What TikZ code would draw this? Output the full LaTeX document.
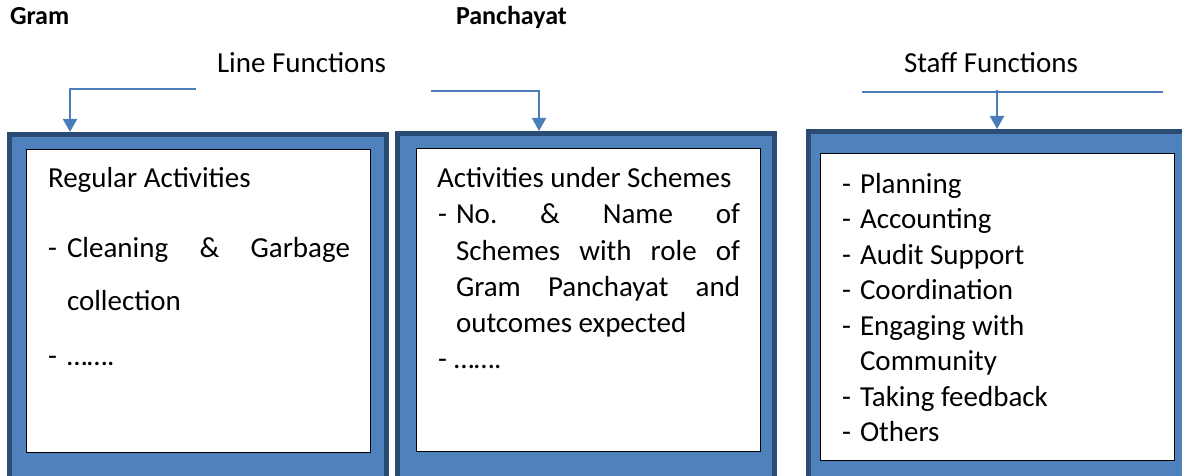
\documentclass[tikz,border=0pt]{standalone}
\usepackage{fontspec}
\setmainfont{Carlito}
\usetikzlibrary{arrows.meta}
\definecolor{panelblue}{HTML}{4F81BD}
\definecolor{paneledge}{HTML}{2A4B73}
\definecolor{linkblue}{HTML}{4A7EBB}
\tikzset{
  panel/.style={rectangle, draw=paneledge, fill=panelblue, line width=5pt,
    inner sep=0pt, outer sep=2.5pt, anchor=north west},
  sheet/.style={rectangle, draw=black, fill=white, line width=1.5pt,
    inner sep=0pt, outer sep=0pt, anchor=north west},
  txt/.style={anchor=base west, inner sep=0pt, outer sep=0pt,
    font=\fontsize{29}{35}\selectfont},
  headtxt/.style={anchor=base west, inner sep=0pt, outer sep=0pt,
    font=\fontsize{26}{31}\selectfont\bfseries},
  link/.style={draw=linkblue, line width=2pt},
  tip/.style={-{Triangle[width=14pt,length=13pt]}}
}
\begin{document}
\begin{tikzpicture}[x=1pt,y=-1pt]
\useasboundingbox (0,0) rectangle (1182,476);
\clip (0,0) rectangle (1182,476);

% headings
\node[headtxt] (hgram) at (10,25) {Gram};
\node[headtxt] (hpanch) at (456,25) {Panchayat};
\node[txt] (hline) at (217,73) {Line Functions};
\node[txt] (hstaff) at (904,73) {Staff Functions};

% outer panels
\node[panel, minimum width=377pt, minimum height=353pt] (box1) at (7,132) {};
\node[panel, minimum width=377pt, minimum height=353pt] (box2) at (395,131) {};
\node[panel, minimum width=400pt, minimum height=355pt] (box3) at (806,129) {};

% white sheets
\node[sheet, minimum width=344pt, minimum height=303pt] (sheet1) at (26.5,149.5) {};
\node[sheet, minimum width=344pt, minimum height=303pt] (sheet2) at (416.5,148.5) {};
\node[sheet, minimum width=354pt, minimum height=307pt] (sheet3) at (820.5,153.5) {};

% connectors
\coordinate (a1s) at (196,89);
\coordinate (a1k) at (70,89);
\draw[link,tip] (a1s) -- (a1k) -- (a1k |- box1.north);
\coordinate (a2s) at (431,91);
\coordinate (a2k) at (539,91);
\draw[link,tip] (a2s) -- (a2k) -- (a2k |- box2.north);
\coordinate (a3l) at (862,92);
\coordinate (a3r) at (1163,92);
\draw[link,line width=1.5pt] (a3l) -- (a3r);
\coordinate (a3k) at (997,90);
\draw[link,tip] (a3k) -- (a3k |- box3.north);

% regular activities
\node[txt] (r1) at (48,187) {Regular Activities};
\node[txt] (r2d) at (48,257) {-};
\node[txt] (r2) at (67,257) {\makebox[283pt][s]{Cleaning\hfill\&\hfill Garbage}};
\node[txt] (r3) at (67,310) {collection};
\node[txt] (r4d) at (48,365) {-};
\node[txt] (r4) at (67,365) {…….};

% activities under schemes
\node[txt] (s1) at (437,187) {Activities under Schemes};
\node[txt] (s2d) at (438,223) {-};
\node[txt] (s2) at (456,223) {\makebox[284pt][s]{No.\hfill\&\hfill Name\hfill of}};
\node[txt] (s3) at (456,260) {\makebox[284pt][s]{Schemes\hfill with\hfill role\hfill of}};
\node[txt] (s4) at (456,296) {\makebox[284pt][s]{Gram\hfill Panchayat\hfill and}};
\node[txt] (s5) at (456,332) {outcomes expected};
\node[txt] (s6d) at (438,368) {-};
\node[txt] (s6) at (454,368) {…….};

% staff functions list
\foreach \lbl/\yy [count=\i] in {Planning/193, Accounting/228.5, Audit Support/264,
    Coordination/299.5, Engaging with/335, Taking feedback/406, Others/441.5}{
  \node[txt] (f\i d) at (842,\yy) {-};
  \node[txt] (f\i) at (860,\yy) {\lbl};
}
\node[txt] (fcomm) at (860,370.5) {Community};
\end{tikzpicture}
\end{document}
